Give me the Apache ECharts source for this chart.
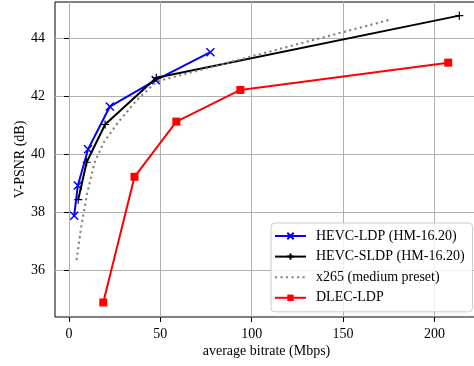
<!DOCTYPE html>
<html>
<head>
<meta charset="utf-8">
<script src="https://cdn.jsdelivr.net/npm/echarts@6/dist/echarts.min.js"></script>
<style>
  html, body { margin: 0; padding: 0; background: #fff; }
  #chart { width: 474px; height: 366px; }
</style>
</head>
<body>
<div id="chart"></div>
<script>
// Rate-distortion curves: average bitrate (Mbps) vs V-PSNR (dB)
const hevcLdpX  = [2.9, 4.9, 10.5, 22.4, 47.5, 77.4];
const hevcLdpY  = [37.88, 38.92, 40.17, 41.64, 42.55, 43.51];

const hevcSldpX = [5.1, 9.7, 19.8, 47.8, 213.6];
const hevcSldpY = [38.43, 39.72, 41.02, 42.63, 44.77];

const x265X     = [4.2, 6.5, 10, 14, 19, 27, 37, 48, 175];
const x265Y     = [36.35, 37.4, 38.65, 39.7, 40.4, 41.1, 41.85, 42.5, 44.62];

const dlecX     = [18.8, 35.9, 58.8, 93.8, 207.5];
const dlecY     = [34.89, 39.22, 41.12, 42.21, 43.15];

const seriesNames = [
  'HEVC-LDP (HM-16.20)',
  'HEVC-SLDP (HM-16.20)',
  'x265 (medium preset)',
  'DLEC-LDP'
];

const xTicks = [0, 50, 100, 150, 200];
const yTicks = [36, 38, 40, 42, 44];

const xTitle = 'average bitrate (Mbps)';
const yTitle = 'V-PSNR (dB)';

const pairs = (xs, ys) => xs.map((x, i) => [x, ys[i]]);

const FONT = "'Liberation Serif', 'Times New Roman', serif";
const crossX = 'path://M0,0L10,10M0,10L10,0';
const plusSym = 'path://M5,0L5,10M0,5L10,5';
// zero-area marker: keeps the legend entry a plain dotted line
const blankSym = 'path://M0,0L1,1';

const chart = echarts.init(document.getElementById('chart'), null, { renderer: 'canvas' });

chart.setOption({
  animation: false,
  backgroundColor: '#ffffff',
  textStyle: { fontFamily: FONT, color: '#000' },
  grid: {
    left: 55, top: 2, right: -4, bottom: 49,
    show: true, borderColor: '#000', borderWidth: 1,
    containLabel: false,
    outerBoundsMode: 'none'
  },
  legend: {
    orient: 'vertical',
    left: 271, top: 223,
    padding: [6, 8, 7, 3],
    itemWidth: 31, itemHeight: 8, itemGap: 6.6,
    backgroundColor: 'rgba(255,255,255,0.8)',
    borderColor: '#cccccc', borderWidth: 1, borderRadius: 4,
    textStyle: { fontFamily: FONT, fontSize: 14, color: '#000', padding: [0, 0, 0, 5] },
    data: seriesNames
  },
  xAxis: {
    type: 'value',
    min: -7.6, max: 223.8,
    name: xTitle,
    nameLocation: 'middle',
    nameGap: 27,
    nameMoveOverlap: false,
    nameTextStyle: { fontFamily: FONT, fontSize: 14, color: '#000', verticalAlign: 'top' },
    axisLine: { show: false },
    axisTick: { show: true, customValues: xTicks, length: 5, lineStyle: { color: '#000', width: 1 } },
    axisLabel: { customValues: xTicks, margin: 10, fontFamily: FONT, fontSize: 14, color: '#000' },
    splitLine: { show: true, lineStyle: { color: '#b0b0b0', width: 1 } }
  },
  yAxis: {
    type: 'value',
    min: 34.39, max: 45.24,
    name: yTitle,
    nameLocation: 'middle',
    nameGap: 28,
    nameRotate: 90,
    nameMoveOverlap: false,
    nameTextStyle: { fontFamily: FONT, fontSize: 14, color: '#000' },
    axisLine: { show: false },
    axisTick: { show: true, customValues: yTicks, length: 5, lineStyle: { color: '#000', width: 1 } },
    axisLabel: { customValues: yTicks, margin: 10, fontFamily: FONT, fontSize: 14, color: '#000' },
    splitLine: { show: true, lineStyle: { color: '#b0b0b0', width: 1 } }
  },
  series: [
    {
      name: seriesNames[0], type: 'line',
      data: pairs(hevcLdpX, hevcLdpY),
      symbol: crossX, symbolSize: 8,
      lineStyle: { color: '#0000ff', width: 2 },
      itemStyle: { color: '#0000ff', borderColor: '#0000ff', borderWidth: 1.5 },
      z: 2
    },
    {
      name: seriesNames[1], type: 'line',
      data: pairs(hevcSldpX, hevcSldpY),
      symbol: plusSym, symbolSize: 8,
      lineStyle: { color: '#000000', width: 2 },
      itemStyle: { color: '#000000', borderColor: '#000000', borderWidth: 1.2 },
      z: 3
    },
    {
      name: seriesNames[2], type: 'line',
      data: pairs(x265X, x265Y),
      symbol: blankSym, showSymbol: false,
      lineStyle: { color: '#808080', width: 2.1, type: [2.1, 3.4], cap: 'butt' },
      itemStyle: { color: '#808080', borderWidth: 0, opacity: 0 },
      z: 4
    },
    {
      name: seriesNames[3], type: 'line',
      data: pairs(dlecX, dlecY),
      symbol: 'rect', symbolSize: 8,
      lineStyle: { color: '#ff0000', width: 2 },
      itemStyle: { color: '#ff0000', borderWidth: 0 },
      z: 5
    }
  ]
});
</script>
</body>
</html>
